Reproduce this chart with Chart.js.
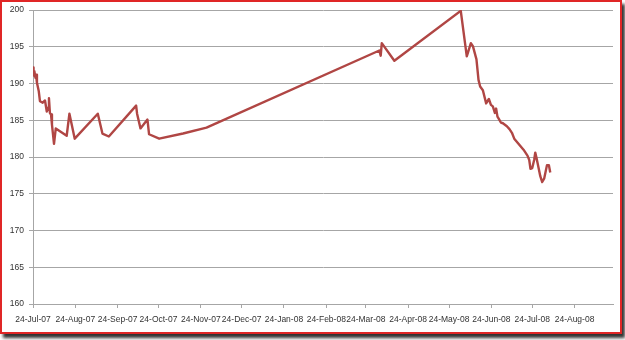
<!DOCTYPE html>
<html>
<head>
<meta charset="utf-8">
<script src="https://cdn.jsdelivr.net/npm/chart.js@4.4.1/dist/chart.umd.min.js"></script>
<style>
  body { margin: 0; background: #fff; }
  #frame {
    position: absolute; left: 0; top: 0;
    width: 618px; height: 330px;
    border: 2px solid #e02626;
    background: #fff;
    box-shadow: 3px 4px 3px rgba(0,0,0,0.8);
  }
  #chart-display { position: absolute; left: 0; top: 0; }
</style>
</head>
<body>
<div id="frame"></div>
<canvas id="chart-display" width="625" height="340"></canvas>
<script>
// x values are days after 24-Jul-07
var days = [
  0.0, 0.4, 1.0, 1.8, 2.2, 2.9, 4.2, 5.1, 7.1, 8.8, 10.1, 11.0, 11.7, 12.4, 13.2, 13.9,
  15.4, 16.7, 24.7, 26.7, 30.6, 47.5, 50.9, 55.6, 75.6, 76.3, 78.8, 83.9, 85.1, 92.5,
  110.0, 127.2, 253.9, 254.9, 255.7, 264.9, 313.6, 318.0, 321.0, 322.5, 325.1, 326.6,
  327.8, 329.8, 332.2, 334.2, 335.7, 337.1, 338.6, 339.5, 340.5, 341.5, 343.0, 344.5,
  347.4, 349.3, 351.1, 352.8, 355.9, 359.6, 362.5, 363.8, 364.7, 366.0, 367.4, 368.2,
  369.1, 369.9, 371.9, 373.3, 374.8, 376.8, 378.2, 379.2
];
var values = [
  192.2, 191.1, 191.7, 190.8, 191.2, 190.1, 189.0, 187.6, 187.4, 187.7, 186.2, 186.7, 188.0, 186.0, 185.8, 184.4,
  181.8, 183.9, 182.9, 185.9, 182.5, 185.9, 183.2, 182.8, 187.0, 185.9, 183.9, 185.1, 183.1, 182.5,
  183.2, 184.0, 194.5, 193.8, 195.5, 193.1, 199.9, 193.7, 195.5, 195.1, 193.3, 190.5,
  189.6, 189.1, 187.3, 187.9, 187.1, 186.9, 186.0, 186.6, 185.5, 185.2, 184.7, 184.6,
  184.2, 183.8, 183.3, 182.5, 181.8, 181.0, 180.2, 179.6, 178.4, 178.5, 179.6, 180.6,
  179.9, 179.2, 177.4, 176.6, 177.1, 178.9, 178.9, 177.9
];
var tickLabels = ['24-Jul-07', '24-Aug-07', '24-Sep-07', '24-Oct-07', '24-Nov-07', '24-Dec-07', '24-Jan-08',
  '24-Feb-08', '24-Mar-08', '24-Apr-08', '24-May-08', '24-Jun-08', '24-Jul-08', '24-Aug-08'];
var yMin = 160, yMax = 200, yStep = 5;
var xMaxDays = 425.2;

var months = {Jan:0, Feb:1, Mar:2, Apr:3, May:4, Jun:5, Jul:6, Aug:7, Sep:8, Oct:9, Nov:10, Dec:11};
function dayOffset(label) {
  var p = label.split('-');
  var t = Date.UTC(2000 + parseInt(p[2], 10), months[p[1]], parseInt(p[0], 10));
  return (t - Date.UTC(2007, 6, 24)) / 86400000;
}
var tickDays = tickLabels.map(dayOffset);

var points = days.map(function(d, i) { return {x: d, y: values[i]}; });

var ctx = document.getElementById('chart-display');
var font = {family: '"Liberation Sans", Arial, sans-serif', size: 8.5};
var axisGray = '#a6a6a6';

new Chart(ctx, {
  type: 'line',
  data: {
    datasets: [{
      data: points,
      borderColor: '#b04644',
      borderWidth: 2.4,
      borderJoinStyle: 'round',
      pointRadius: 0,
      tension: 0,
      fill: false
    }]
  },
  options: {
    responsive: false,
    animation: false,
    layout: {padding: {left: 0, top: 10, right: 12, bottom: 0}},
    plugins: {legend: {display: false}, tooltip: {enabled: false}},
    scales: {
      x: {
        type: 'linear',
        min: 0,
        max: xMaxDays,
        afterBuildTicks: function(scale) {
          scale.ticks = tickDays.map(function(v) { return {value: v}; });
        },
        afterFit: function(scale) { scale.height = 36; },
        grid: {drawOnChartArea: false, drawTicks: true, tickLength: 4, color: axisGray},
        border: {display: true, color: axisGray},
        ticks: {
          autoSkip: false, maxRotation: 0, minRotation: 0, padding: 7,
          color: '#333333', font: font,
          callback: function(v, i) { return tickLabels[i]; }
        }
      },
      y: {
        min: yMin,
        max: yMax,
        afterFit: function(scale) { scale.width = 33; },
        grid: {color: axisGray, tickLength: 4},
        border: {display: true, color: axisGray},
        ticks: {stepSize: yStep, padding: 5, color: '#333333', font: font}
      }
    }
  }
});
</script>
</body>
</html>
